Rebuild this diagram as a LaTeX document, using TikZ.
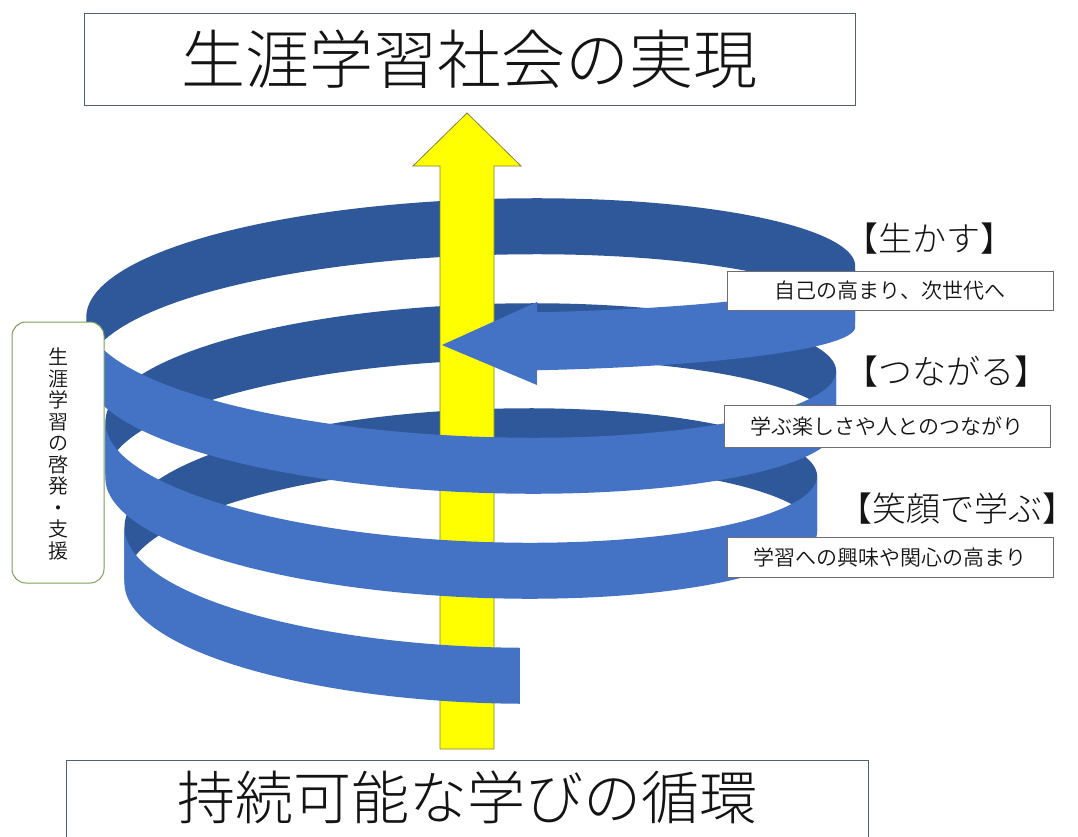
\documentclass[tikz,border=0pt]{standalone}
\usepackage{fontspec}
\IfFontExistsTF{Noto Sans CJK JP Light}
  {\newfontfamily\jpthin{Noto Sans CJK JP Light}}
  {\newfontfamily\jpthin{Noto Sans CJK JP}}
\IfFontExistsTF{Noto Sans CJK JP DemiLight}
  {\newfontfamily\jp{Noto Sans CJK JP DemiLight}}
  {\newfontfamily\jp{Noto Sans CJK JP}}
\definecolor{lightblue}{RGB}{68,114,196}
\definecolor{darkblue}{RGB}{47,88,155}
\definecolor{arrowyellow}{RGB}{255,255,0}
\definecolor{arrowedge}{RGB}{130,130,60}
\definecolor{boxedge}{RGB}{80,95,115}
\definecolor{labeledge}{RGB}{110,110,110}
\definecolor{sideedge}{RGB}{120,160,90}
\definecolor{inktext}{RGB}{20,20,20}
\newcommand\spiralband[3]{%
  \fill[#3] plot[domain=#1:#2,samples=90,variable=\t] ({px(\t)},{py(\t)})
    -- plot[domain=#2:#1,samples=90,variable=\t] ({px(\t)},{py(\t)+56}) -- cycle;}
\begin{document}
\begin{tikzpicture}[x=1pt,y=-1pt,
  declare function={ax(\t)=332+0.053*\t; px(\t)=466+ax(\t)*cos(\t); py(\t)=580.5-0.2916667*\t+92*sin(\t);
    qx(\t)=466+389.2*cos(\t); qy(\t)=269+44*sin(\t);},
  back/.style={fill=darkblue},
  front/.style={fill=lightblue},
  titlebox/.style={draw=boxedge,line width=1pt,fill=white,inner sep=0pt,text=inktext},
  labelbox/.style={draw=labeledge,line width=1pt,fill=white,inner sep=0pt,text=inktext,
    minimum width=326pt,font=\jp\fontsize{21}{21}\selectfont},
  stage/.style={anchor=west,inner sep=0pt,text=inktext,font=\jpthin\fontsize{34}{34}\selectfont},
  yellowarrow/.style={fill=arrowyellow,draw=arrowedge,line width=0.8pt,line join=miter}]
\clip (0,0) rectangle (1078,836);
\fill[white] (0,0) rectangle (1078,836);
\useasboundingbox (0,0) rectangle (1078,836);
% back (inner) parts of the spiral
\spiralband{180}{360}{back}
\spiralband{540}{720}{back}
\spiralband{900}{1080}{back}
% yellow arrow
\draw[yellowarrow] (440,749) -- (440,166) -- (413,166) -- (467,113) -- (521,166) -- (494,166) -- (494,749) -- cycle;
% front parts of the spiral
\spiralband{80.8}{180}{front}
\spiralband{360}{540}{front}
\spiralband{720}{900}{front}
% top front part ending in the arrow head
\fill[front] plot[domain=0:79.5,samples=60,variable=\t] ({qx(\t)},{qy(\t)})
  -- (537,302) -- (442,345) -- (537,385)
  -- plot[domain=79.5:0,samples=60,variable=\t] ({qx(\t)},{qy(\t)+58}) -- cycle;
% boxes
\node[titlebox,minimum width=771pt,minimum height=92pt,font=\jpthin\fontsize{64}{64}\selectfont] (goal) at (469.5,59) {生涯学習社会の実現};
\node[titlebox,minimum width=802pt,minimum height=100pt] (basebox) at (467,810) {};
\node[inner sep=0pt,text=inktext,font=\jpthin\fontsize{58}{58}\selectfont] (base) at (467,797) {持続可能な学びの循環};
\node[draw=sideedge,line width=1pt,fill=white,rounded corners=14pt,minimum width=92pt,minimum height=261pt] (side) at (58,452.5) {};
\node[inner sep=0pt,align=center,text=inktext,font=\jp\fontsize{20}{21.5}\selectfont] (sidetext) at (58,454) {生\\涯\\学\\習\\の\\啓\\発\\・\\支\\援};
\node[stage] (s3) at (844,239) {【生かす】};
\node[stage] (s2) at (844,372) {【つながる】};
\node[stage] (s1) at (838,509) {【笑顔で学ぶ】};
\node[labelbox,minimum height=39pt] (d3) at (890,290.5) {自己の高まり、次世代へ};
\node[labelbox,minimum height=42pt] (d2) at (887,426) {学ぶ楽しさや人とのつながり};
\node[labelbox,minimum height=40pt] (d1) at (890,557) {学習への興味や関心の高まり};
\end{tikzpicture}
\end{document}
